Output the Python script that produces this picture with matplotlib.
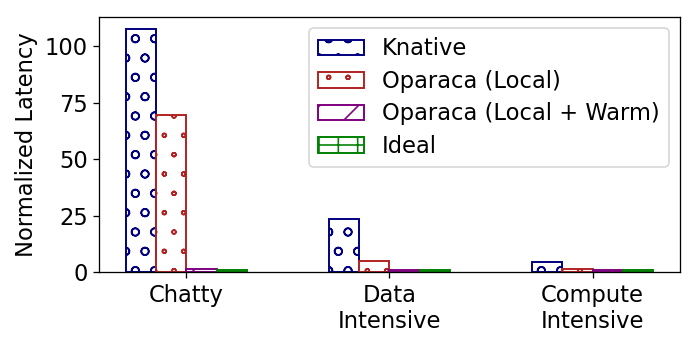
import numpy as np
import matplotlib.pyplot as plt
import matplotlib.hatch as mhatch


# the '.' hatch of the original draws small open rings, not filled dots
class SmallRings(mhatch.Circles):
    size = 0.1

    def __init__(self, hatch, density):
        self.num_rows = hatch.count('.') * density
        super().__init__(hatch, density)


mhatch._hatch_types = [SmallRings if t is mhatch.SmallFilledCircles else t
                       for t in mhatch._hatch_types]

plt.rcParams['font.size'] = 14
plt.rcParams['hatch.linewidth'] = 1.0

categories = ["Chatty", "Data\nIntensive", "Compute\nIntensive"]
series_names = ["Knative", "Oparaca (Local)", "Oparaca (Local + Warm)", "Ideal"]
knative = [107.5, 23.5, 4.4]
oparaca_local = [69.5, 4.9, 1.5]
oparaca_warm = [1.5, 1.2, 1.1]
ideal = [1.0, 1.0, 1.0]

values = [knative, oparaca_local, oparaca_warm, ideal]
colors = ["navy", "firebrick", "purple", "green"]
hatches = ["o", ".", "/", "+"]

# 698x349 px output
fig, ax = plt.subplots(figsize=(6, 3), dpi=698 / 6)

x = np.arange(len(categories))
width = 0.15

for i, (name, vals) in enumerate(zip(series_names, values)):
    ax.bar(x + (i - 1.5) * width, vals, width, label=name,
           color="white", edgecolor=colors[i], hatch=hatches[i], linewidth=1.2)

ax.set_xticks(x)
ax.set_xticklabels(categories)
ax.set_ylabel("Normalized Latency")
ax.set_yticks([0, 25, 50, 75, 100])
ax.legend(loc="upper right", labelspacing=0.42)

plt.subplots_adjust(left=0.142, right=0.974, top=0.951, bottom=0.22)
plt.savefig("out.png", dpi=698 / 6)
